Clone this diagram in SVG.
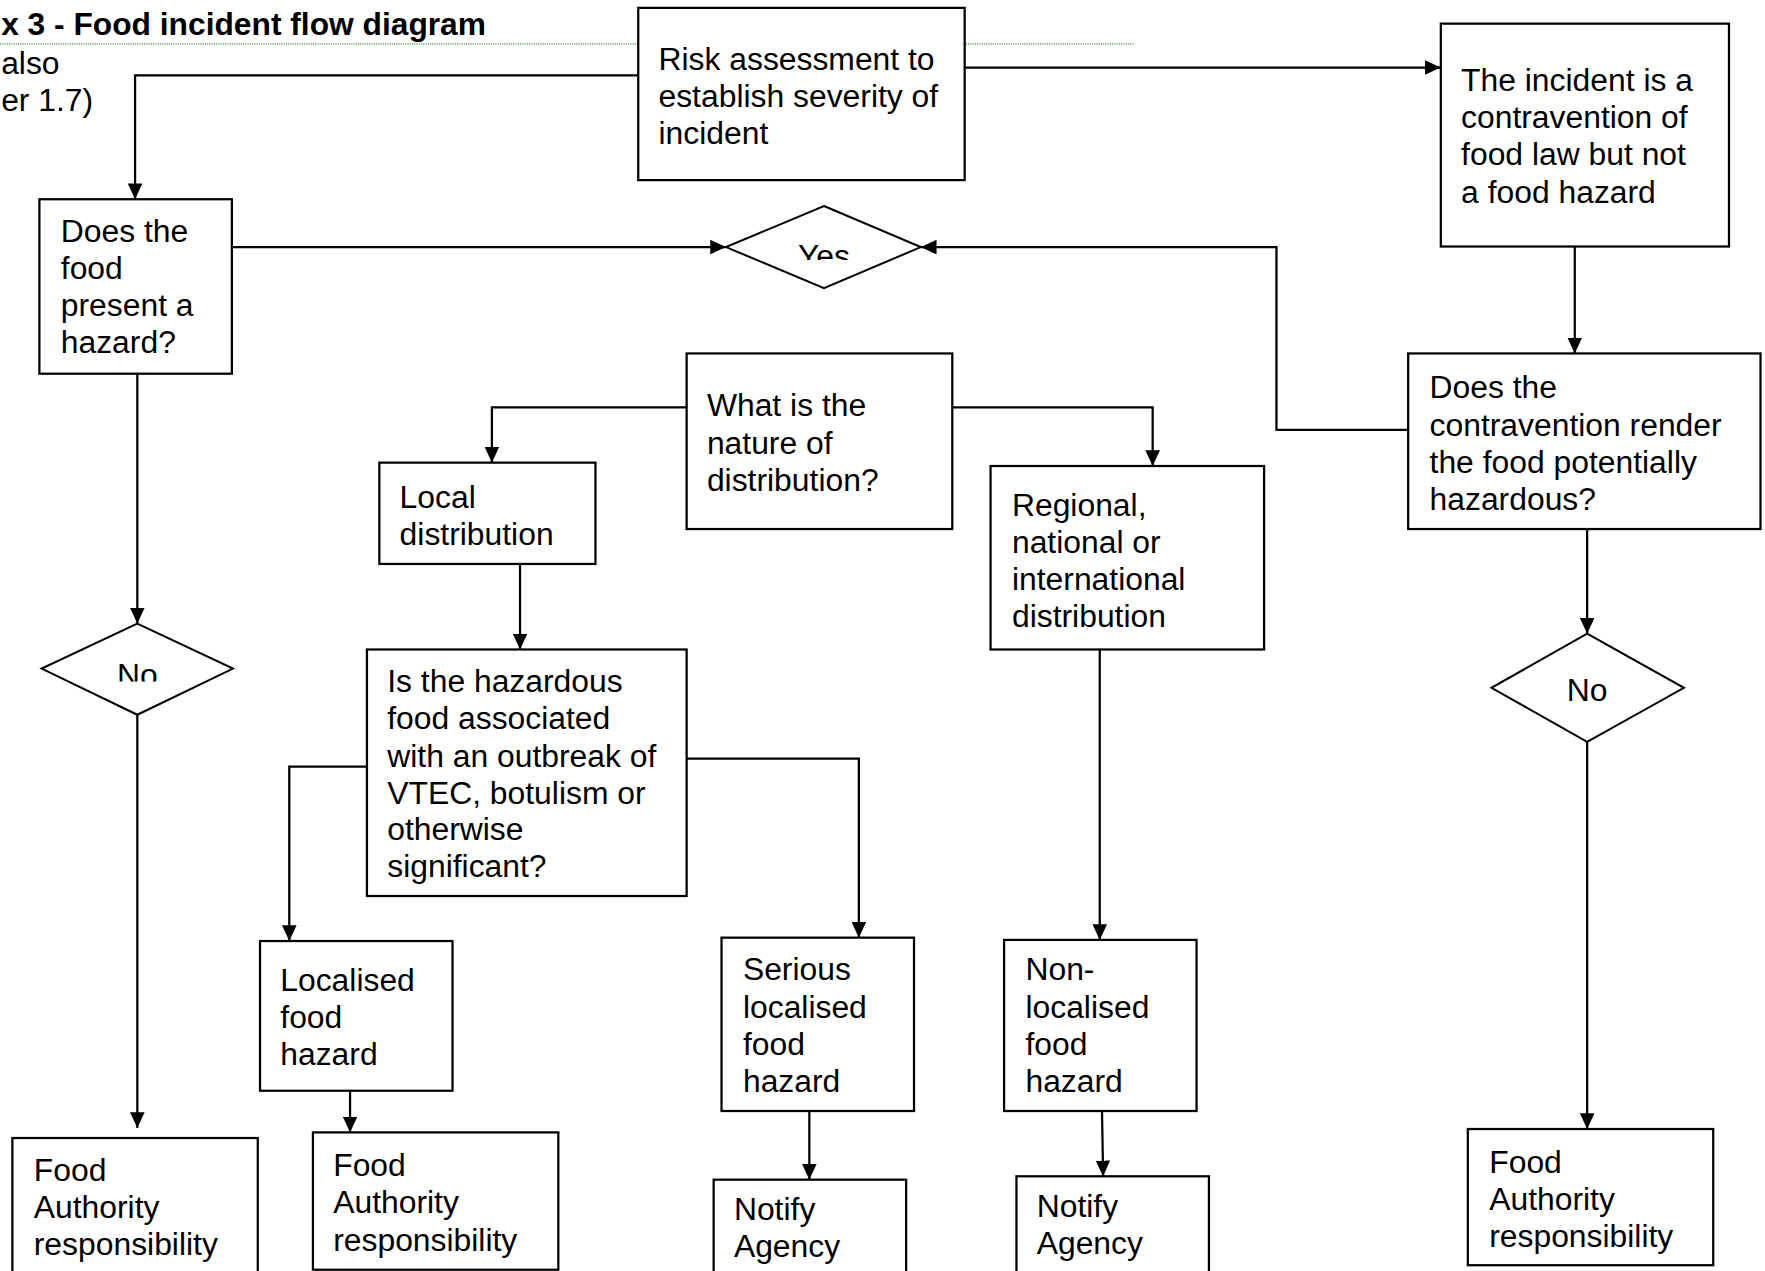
<svg xmlns="http://www.w3.org/2000/svg" width="1765" height="1271" viewBox="0 0 1765 1271">
<defs>
<style>
.box{fill:#fff;stroke:#000;stroke-width:2}
.dia{fill:#fff;stroke:#000;stroke-width:1.8}
.t{font-family:"Liberation Sans",Arial,sans-serif;font-size:28.3px;fill:#000}
.tb{font-family:"Liberation Sans",Arial,sans-serif;font-size:28.2px;font-weight:bold;fill:#000}
.d{font-family:"Liberation Sans",Arial,sans-serif;font-size:28.3px;fill:#000;text-anchor:middle}
.ca{fill:none;stroke:#000;stroke-width:2;marker-end:url(#arr)}
</style>
<marker id="arr" viewBox="0 0 14 13" refX="14" refY="6.5" markerWidth="14" markerHeight="13" markerUnits="userSpaceOnUse" orient="auto">
<path d="M0,0 L14,6.5 L0,13 z" fill="#000"/>
</marker>
<clipPath id="clipYes"><rect x="650" y="195" width="165" height="36"/></clipPath>
<clipPath id="clipNoL"><rect x="40" y="570" width="165" height="35.5"/></clipPath>
</defs>
<rect width="1765" height="1271" fill="#fff"/>
<g transform="scale(1.12564)">
<g id="header">
<line x1="0" y1="39" x2="1008" y2="39" stroke="#3a9a3a" stroke-width="1" stroke-dasharray="1 1"/>
<text class="tb" x="1" y="31">x 3 - Food incident flow diagram</text>
<text class="t" x="1" y="66">also</text>
<text class="t" x="1" y="99">er 1.7)</text>
</g>
<g id="risk">
<rect class="box" x="567" y="7" width="290" height="153"/>
<text class="t" x="585" y="62">Risk assessment to</text>
<text class="t" x="585" y="95">establish severity of</text>
<text class="t" x="585" y="128">incident</text>
</g>
<g id="incident">
<rect class="box" x="1280" y="21" width="256" height="198"/>
<text class="t" x="1298" y="81">The incident is a</text>
<text class="t" x="1298" y="114">contravention of</text>
<text class="t" x="1298" y="147">food law but not</text>
<text class="t" x="1298" y="180">a food hazard</text>
</g>
<g id="does-hazard">
<rect class="box" x="35" y="177" width="171" height="155"/>
<text class="t" x="54" y="215">Does the</text>
<text class="t" x="54" y="248">food</text>
<text class="t" x="54" y="281">present a</text>
<text class="t" x="54" y="314">hazard?</text>
</g>
<g id="yes">
<polygon class="dia" points="732,183 818,219.5 732,256 645,219.5"/>
<text class="d" x="732" y="237" clip-path="url(#clipYes)">Yes</text>
</g>
<g id="contravention">
<rect class="box" x="1251" y="314" width="313" height="156"/>
<text class="t" x="1270" y="354"> Does the</text>
<text class="t" x="1270" y="387">contravention render</text>
<text class="t" x="1270" y="420">the food potentially</text>
<text class="t" x="1270" y="453">hazardous?</text>
</g>
<g id="nature">
<rect class="box" x="610" y="314" width="236" height="156"/>
<text class="t" x="628" y="370">What is the</text>
<text class="t" x="628" y="403">nature of</text>
<text class="t" x="628" y="436">distribution?</text>
</g>
<g id="local">
<rect class="box" x="337" y="411" width="192" height="90"/>
<text class="t" x="355" y="451">Local</text>
<text class="t" x="355" y="484">distribution</text>
</g>
<g id="regional">
<rect class="box" x="880" y="414" width="243" height="163"/>
<text class="t" x="899" y="458">Regional,</text>
<text class="t" x="899" y="491">national or</text>
<text class="t" x="899" y="524">international</text>
<text class="t" x="899" y="557">distribution</text>
</g>
<g id="no-left">
<polygon class="dia" points="122,554 207,594 122,635 37,594"/>
<text class="d" x="122" y="609.5" clip-path="url(#clipNoL)">No</text>
</g>
<g id="no-right">
<polygon class="dia" points="1410,563 1496,611 1410,659 1325,611"/>
<text class="d" x="1410" y="623">No</text>
</g>
<g id="outbreak">
<rect class="box" x="326" y="577" width="284" height="219"/>
<text class="t" x="344" y="615">Is the hazardous</text>
<text class="t" x="344" y="648">food associated</text>
<text class="t" x="344" y="681">with an outbreak of</text>
<text class="t" x="344" y="714">VTEC, botulism or</text>
<text class="t" x="344" y="746">otherwise</text>
<text class="t" x="344" y="779">significant?</text>
</g>
<g id="localised">
<rect class="box" x="231" y="836" width="171" height="133"/>
<text class="t" x="249" y="880">Localised</text>
<text class="t" x="249" y="913">food</text>
<text class="t" x="249" y="946">hazard</text>
</g>
<g id="serious">
<rect class="box" x="641" y="833" width="171" height="154"/>
<text class="t" x="660" y="871">Serious</text>
<text class="t" x="660" y="904">localised</text>
<text class="t" x="660" y="937">food</text>
<text class="t" x="660" y="970">hazard</text>
</g>
<g id="non-localised">
<rect class="box" x="892" y="835" width="171" height="152"/>
<text class="t" x="911" y="871">Non-</text>
<text class="t" x="911" y="904">localised</text>
<text class="t" x="911" y="937">food</text>
<text class="t" x="911" y="970">hazard</text>
</g>
<g id="fa-left">
<rect class="box" x="11" y="1011" width="218" height="140"/>
<text class="t" x="30" y="1049">Food</text>
<text class="t" x="30" y="1082">Authority</text>
<text class="t" x="30" y="1115">responsibility</text>
</g>
<g id="fa-mid">
<rect class="box" x="278" y="1006" width="218" height="122"/>
<text class="t" x="296" y="1045">Food</text>
<text class="t" x="296" y="1078">Authority</text>
<text class="t" x="296" y="1111">responsibility</text>
</g>
<g id="notify-1">
<rect class="box" x="634" y="1048" width="171" height="120"/>
<text class="t" x="652" y="1084">Notify</text>
<text class="t" x="652" y="1117">Agency</text>
</g>
<g id="notify-2">
<rect class="box" x="903" y="1045" width="171" height="120"/>
<text class="t" x="921" y="1081">Notify</text>
<text class="t" x="921" y="1114">Agency</text>
</g>
<g id="fa-right">
<rect class="box" x="1304" y="1003" width="218" height="121"/>
<text class="t" x="1323" y="1042">Food</text>
<text class="t" x="1323" y="1075">Authority</text>
<text class="t" x="1323" y="1108">responsibility</text>
</g>
<g id="connectors">
<path class="ca" d="M567,67 H120 V177"/>
<path class="ca" d="M857,60 H1280"/>
<path class="ca" d="M206,219.5 H645"/>
<path class="ca" d="M1251,382 H1134 V219.5 H818"/>
<path class="ca" d="M1399,219 V314"/>
<path class="ca" d="M1410,470 V563"/>
<path class="ca" d="M1410,659 V1003"/>
<path class="ca" d="M122,332 V554"/>
<path class="ca" d="M122,635 V1002"/>
<path class="ca" d="M610,362 H437 V411"/>
<path class="ca" d="M846,362 H1024 V414"/>
<path class="ca" d="M462,501 V577"/>
<path class="ca" d="M326,681 H257 V836"/>
<path class="ca" d="M610,674 H763 V833"/>
<path class="ca" d="M311,969 V1006"/>
<path class="ca" d="M719,987 V1048"/>
<path class="ca" d="M977,577 V835"/>
<path class="ca" d="M979,987 L980,1045"/>
</g>
</g>
</svg>
